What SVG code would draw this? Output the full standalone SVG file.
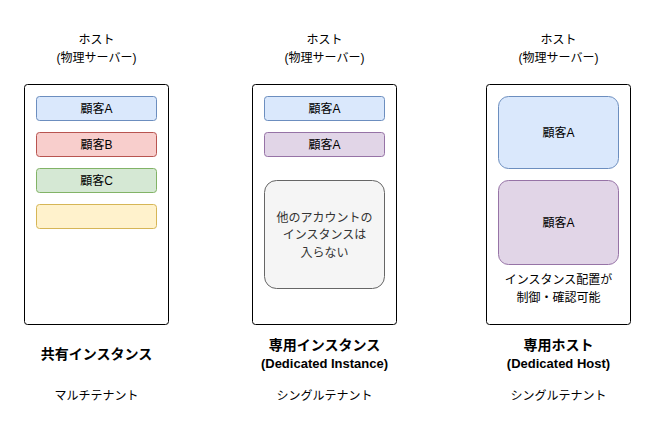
<svg xmlns="http://www.w3.org/2000/svg" width="656" height="441" viewBox="0 0 656 441">
<style>
text{font-family:"Liberation Sans","Noto Sans CJK JP",sans-serif;font-size:12px;fill:#000;text-anchor:middle;dominant-baseline:central}
.b{font-weight:bold;font-size:14px}
.bl{font-weight:bold;font-size:13px}
.host{fill:#fff;stroke:#000;stroke-width:1}
.blue{fill:#dae8fc;stroke:#6c8ebf}
.red{fill:#f8cecc;stroke:#b85450}
.green{fill:#d5e8d4;stroke:#82b366}
.yellow{fill:#fff2cc;stroke:#d6b656}
.purple{fill:#e1d5e7;stroke:#9673a6}
.grey{fill:#f5f5f5;stroke:#666666}
.gt{fill:#333333}
</style>
<rect width="656" height="441" fill="#fff"/>
<g id="connectors"></g>
<g id="label-host1"><text x="96.5" y="40">ホスト</text><text x="96.5" y="58">(物理サーバー)</text></g>
<g id="label-host2"><text x="324.5" y="40">ホスト</text><text x="324.5" y="58">(物理サーバー)</text></g>
<g id="label-host3"><text x="558.5" y="40">ホスト</text><text x="558.5" y="58">(物理サーバー)</text></g>
<g id="host1"><rect class="host" x="24.5" y="84.5" width="144" height="240" rx="3"/></g>
<g id="host1-a"><rect class="blue" x="36.5" y="96.5" width="120" height="24" rx="3"/><text x="96.5" y="108.5">顧客A</text></g>
<g id="host1-b"><rect class="red" x="36.5" y="132.5" width="120" height="24" rx="3"/><text x="96.5" y="144.5">顧客B</text></g>
<g id="host1-c"><rect class="green" x="36.5" y="168.5" width="120" height="24" rx="3"/><text x="96.5" y="180.5">顧客C</text></g>
<g id="host1-d"><rect class="yellow" x="36.5" y="204.5" width="120" height="24" rx="3"/></g>
<g id="host2"><rect class="host" x="252.5" y="84.5" width="144" height="240" rx="3"/></g>
<g id="host2-a"><rect class="blue" x="264.5" y="96.5" width="120" height="24" rx="3"/><text x="324.5" y="108.5">顧客A</text></g>
<g id="host2-b"><rect class="purple" x="264.5" y="132.5" width="120" height="24" rx="3"/><text x="324.5" y="144.5">顧客A</text></g>
<g id="host2-none"><rect class="grey" x="264.5" y="180.5" width="120" height="108" rx="12"/><text class="gt" x="324.5" y="217.5">他のアカウントの</text><text class="gt" x="324.5" y="235">インスタンスは</text><text class="gt" x="324.5" y="252.5">入らない</text></g>
<g id="host3"><rect class="host" x="486.5" y="84.5" width="144" height="240" rx="3"/></g>
<g id="host3-a"><rect class="blue" x="498.5" y="96.5" width="120" height="72" rx="10"/><text x="558.5" y="132.5">顧客A</text></g>
<g id="host3-b"><rect class="purple" x="498.5" y="180.5" width="120" height="84" rx="10"/><text x="558.5" y="222.5">顧客A</text></g>
<g id="host3-note"><text x="558.5" y="279.5">インスタンス配置が</text><text x="558.5" y="298">制御・確認可能</text></g>
<g id="title1"><text class="b" x="96.5" y="354">共有インスタンス</text></g>
<g id="title2"><text class="b" x="324.5" y="344.5">専用インスタンス</text><text class="bl" x="324.5" y="363">(Dedicated Instance)</text></g>
<g id="title3"><text class="b" x="558.5" y="344.5">専用ホスト</text><text class="bl" x="558.5" y="363">(Dedicated Host)</text></g>
<g id="sub1"><text x="96.5" y="396">マルチテナント</text></g>
<g id="sub2"><text x="324.5" y="396">シングルテナント</text></g>
<g id="sub3"><text x="558.5" y="396">シングルテナント</text></g>
</svg>
